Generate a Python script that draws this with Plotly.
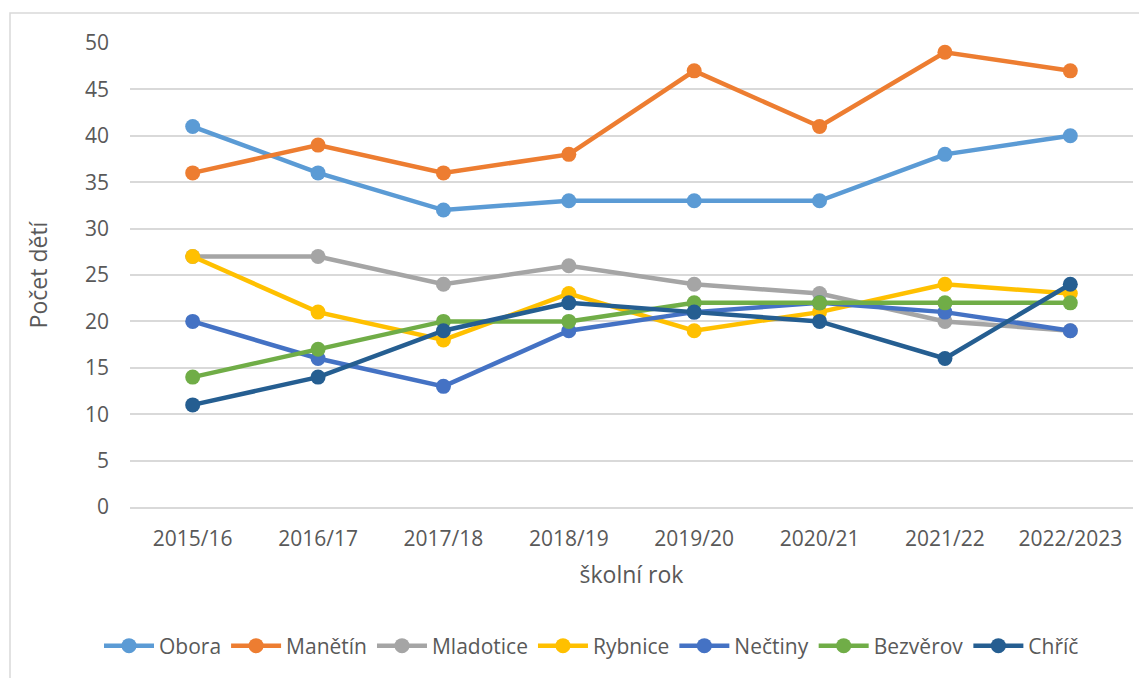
import plotly.graph_objects as go

years = ["2015/16", "2016/17", "2017/18", "2018/19", "2019/20", "2020/21", "2021/22", "2022/2023"]

obora = [41, 36, 32, 33, 33, 33, 38, 40]
manetin = [36, 39, 36, 38, 47, 41, 49, 47]
mladotice = [27, 27, 24, 26, 24, 23, 20, 19]
rybnice = [27, 21, 18, 23, 19, 21, 24, 23]
nectiny = [20, 16, 13, 19, 21, 22, 21, 19]
bezverov = [14, 17, 20, 20, 22, 22, 22, 22]
chric = [11, 14, 19, 22, 21, 20, 16, 24]

series = [
    ("Obora", obora, "#5B9BD5"),
    ("Manětín", manetin, "#ED7D31"),
    ("Mladotice", mladotice, "#A5A5A5"),
    ("Rybnice", rybnice, "#FFC000"),
    ("Nečtiny", nectiny, "#4472C4"),
    ("Bezvěrov", bezverov, "#70AD47"),
    ("Chříč", chric, "#255E91"),
]

FONT = "Open Sans"
TXT = "#595959"

fig = go.Figure()
for name, vals, col in series:
    fig.add_trace(go.Scatter(
        x=years, y=vals, name=name, mode="lines+markers",
        line=dict(color=col, width=4.5),
        marker=dict(color=col, size=15),
    ))

OFF = 8  # page body margin
W, H = 1147 - OFF, 678 - OFF
L, R, T, B = 130 - OFF, 14, 43 - OFF, 171
pw = W - L - R
ph = H - T - B

fig.update_layout(
    width=W, height=H,
    margin=dict(l=L, r=R, t=T, b=B, autoexpand=False),
    paper_bgcolor="white", plot_bgcolor="white",
    font=dict(family=FONT, size=21, color=TXT),
    showlegend=True,
    legend=dict(orientation="h", xref="container", yref="container",
                x=(591.5 - OFF) / W, xanchor="center",
                y=1 - (646 - OFF) / H, yanchor="middle",
                font=dict(family=FONT, size=21, color=TXT), itemwidth=50,
                tracegroupgap=0, bgcolor="rgba(0,0,0,0)"),
    xaxis=dict(
        type="category", showgrid=False, zeroline=False,
        showline=True, linecolor="#D9D9D9", linewidth=1.5,
        ticks="", tickfont=dict(family=FONT, size=21, color=TXT),
        ticklabelstandoff=12,
        title=dict(text="školní rok", font=dict(family=FONT, size=23, color=TXT), standoff=16),
        range=[-0.5, len(years) - 0.5],
    ),
    yaxis=dict(
        range=[0, 50], dtick=5, tick0=0, showgrid=True, gridcolor="#D9D9D9", gridwidth=1.5,
        zeroline=False, showline=False, ticks="",
        tickfont=dict(family=FONT, size=21, color=TXT),
        title=dict(text="Počet dětí", font=dict(family=FONT, size=23, color=TXT), standoff=30),
        ticklabelstandoff=20,
    ),
    shapes=[dict(
        type="rect", xref="paper", yref="paper", layer="below",
        x0=(10 - 130) / pw, x1=(1170 - 130) / pw,
        y0=(507 - 720) / ph, y1=(507 - 13) / ph,
        line=dict(color="#D9D9D9", width=1.5), fillcolor="rgba(0,0,0,0)",
    )],
)

fig.write_html("out.html")
